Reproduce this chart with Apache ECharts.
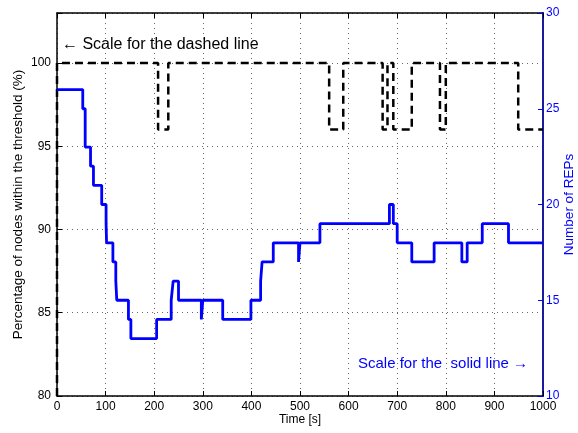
<!DOCTYPE html>
<html>
<head>
<meta charset="utf-8">
<title>Nodes within threshold and REP count over time</title>
<script src="https://cdn.jsdelivr.net/npm/echarts@6/dist/echarts.min.js"></script>
<style>
  html, body { margin: 0; padding: 0; background: #fff; }
  #chart { width: 578px; height: 433px; }
</style>
</head>
<body>
<div id="chart"></div>
<script>
// Time ticks along the bottom axis (seconds)
const timeTicks = [0, 100, 200, 300, 400, 500, 600, 700, 800, 900, 1000];
// Left axis ticks (percentage) and right axis ticks (REP count)
const percentTicks = [80, 85, 90, 95, 100];
const repTicks = [10, 15, 20, 25, 30];

// Dashed series: percentage of nodes within the threshold, [time, %] at each change
const percentSteps = [
  [0, 80], [0, 100], [208, 96], [229, 100], [560, 96], [589, 100],
  [670, 96], [680, 100], [692, 96], [730, 100], [788, 96], [800, 100],
  [949, 96], [1000, 96]
];

// Solid series: number of REPs, [time, count] at each change
const repSteps = [
  [0, 26], [53, 25], [58, 23], [69, 22], [75, 21], [92, 20], [101, 19],
  [102, 18], [115, 17], [121, 16], [123, 15], [147, 14], [152, 13],
  [205, 14], [235, 15], [239, 16], [250, 15], [297, 14], [300, 15],
  [341, 14], [399, 15], [419, 16], [422, 17], [445, 18], [497, 17],
  [500, 18], [541, 19], [684, 20], [692, 19], [700, 18], [730, 17],
  [776, 18], [833, 17], [844, 18], [875, 19], [929, 18], [1000, 18]
];

const FONT = 'Liberation Sans, Arial, Helvetica, sans-serif';
const BLUE = '#0000ff';
const NAVY = '#1a1a9c';
const gridDots = { type: [1, 4], color: '#666', width: 1 };

const chart = echarts.init(document.getElementById('chart'));

chart.setOption({
  backgroundColor: '#fff',
  animation: false,
  grid: { left: 57, right: 35, top: 13, bottom: 37, containLabel: false, outerBoundsMode: 'none' },
  xAxis: [
    {
      type: 'value',
      min: timeTicks[0],
      max: timeTicks[timeTicks.length - 1],
      interval: 100,
      name: 'Time [s]',
      nameLocation: 'middle',
      nameGap: 18,
      nameMoveOverlap: false,
      nameTextStyle: { fontFamily: FONT, fontSize: 12, color: '#000' },
      axisLine: { show: true, onZero: false, lineStyle: { color: '#000', width: 1.5 } },
      axisTick: { show: true, inside: true, length: 5, lineStyle: { color: '#000' } },
      axisLabel: { fontFamily: FONT, fontSize: 12, color: '#000', margin: 5, formatter: v => String(v) },
      splitLine: { show: true, lineStyle: gridDots }
    },
    {
      type: 'value',
      position: 'top',
      min: timeTicks[0],
      max: timeTicks[timeTicks.length - 1],
      interval: 100,
      axisLine: { show: true, onZero: false, lineStyle: { color: '#000', width: 1.5 } },
      axisTick: { show: true, inside: true, length: 5, lineStyle: { color: '#000' } },
      axisLabel: { show: false },
      splitLine: { show: false }
    }
  ],
  yAxis: [
    {
      type: 'value',
      position: 'left',
      min: percentTicks[0],
      max: 103,
      interval: 5,
      name: 'Percentage of nodes within the threshold (%)',
      nameLocation: 'middle',
      nameGap: 32,
      nameMoveOverlap: false,
      nameTextStyle: { fontFamily: FONT, fontSize: 13.5, color: '#000' },
      axisLine: { show: true, onZero: false, lineStyle: { color: '#000', width: 1.5 } },
      axisTick: { show: true, inside: true, length: 5, lineStyle: { color: '#000' } },
      axisLabel: {
        fontFamily: FONT, fontSize: 12, color: '#000', margin: 6,
        formatter: v => (percentTicks.indexOf(v) >= 0 ? String(v) : '')
      },
      splitLine: { show: true, lineStyle: gridDots }
    },
    {
      type: 'value',
      position: 'right',
      min: repTicks[0],
      max: repTicks[repTicks.length - 1],
      interval: 5,
      name: 'Number of REPs',
      nameLocation: 'middle',
      nameGap: 19,
      nameMoveOverlap: false,
      nameTextStyle: { fontFamily: FONT, fontSize: 13.5, color: BLUE },
      axisLine: { show: true, onZero: false, lineStyle: { color: NAVY, width: 2 } },
      axisTick: { show: true, inside: true, length: 5, lineStyle: { color: BLUE } },
      axisLabel: { fontFamily: FONT, fontSize: 12, color: BLUE, margin: 3 },
      splitLine: { show: false }
    }
  ],
  series: [
    {
      name: 'Percentage of nodes',
      type: 'line',
      xAxisIndex: 0,
      yAxisIndex: 0,
      step: 'end',
      data: percentSteps,
      showSymbol: false,
      z: 3,
      lineStyle: { color: '#000', width: 2.5, type: [8, 5] }
    },
    {
      name: 'Number of REPs',
      type: 'line',
      xAxisIndex: 0,
      yAxisIndex: 1,
      step: 'end',
      data: repSteps,
      showSymbol: false,
      z: 4,
      lineStyle: { color: BLUE, width: 2.8 }
    }
  ],
  graphic: [
    {
      type: 'text',
      left: 62,
      top: 37,
      style: {
        text: '\u2190 Scale for the dashed line',
        font: '16px ' + FONT,
        fill: '#000'
      }
    },
    {
      type: 'text',
      left: 358,
      top: 356,
      style: {
        text: 'Scale for the  solid line \u2192',
        font: '15px ' + FONT,
        fill: BLUE
      }
    }
  ]
});
</script>
</body>
</html>
